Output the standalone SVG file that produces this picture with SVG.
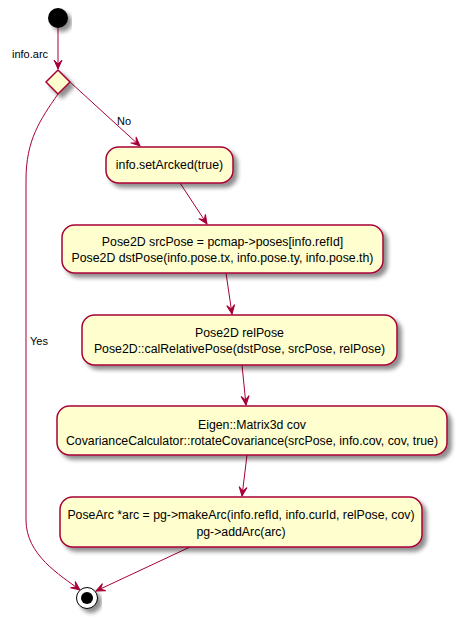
<svg xmlns="http://www.w3.org/2000/svg" width="456" height="618" viewBox="0 0 456 618">
<style>
.box{fill:#FEFECE;stroke:#A80036;stroke-width:1.5;filter:url(#sh)}
.t{font-family:"Liberation Sans",Arial,sans-serif;font-size:12.3px;fill:#000;text-anchor:middle}
.l{font-family:"Liberation Sans",Arial,sans-serif;font-size:11px;fill:#000}
.c{fill:none;stroke:#A80036;stroke-width:1}
</style>
<defs>
<filter id="sh" x="-10%" y="-20%" width="130%" height="160%">
<feGaussianBlur in="SourceAlpha" stdDeviation="2"/>
<feOffset dx="4" dy="4" result="b"/>
<feComponentTransfer><feFuncA type="linear" slope="0.45"/></feComponentTransfer>
<feMerge><feMergeNode/><feMergeNode in="SourceGraphic"/></feMerge>
</filter>
<marker id="ah" viewBox="-10 -5 11 10" refX="0" refY="0" markerUnits="userSpaceOnUse" markerWidth="11" markerHeight="10" orient="auto">
<path d="M0,0 L-9,-4 L-5,0 L-9,4 Z" fill="#A80036" stroke="#A80036" stroke-width="1"/>
</marker>
</defs>
<g id="connectors">
<line class="c" x1="58" y1="28" x2="58" y2="69" marker-end="url(#ah)"/>
<line class="c" x1="70" y1="82" x2="140" y2="146" marker-end="url(#ah)"/>
<text class="l" x="117" y="125">No</text>
<path class="c" d="M58,94 C40,120 26,140 26,180 L26,520 C26,555 60,575 80,590" marker-end="url(#ah)"/>
<text class="l" x="30" y="345">Yes</text>
<line class="c" x1="180" y1="183" x2="207" y2="224" marker-end="url(#ah)"/>
<line class="c" x1="226" y1="273" x2="232" y2="314" marker-end="url(#ah)"/>
<line class="c" x1="242" y1="365" x2="246" y2="405" marker-end="url(#ah)"/>
<line class="c" x1="247" y1="455" x2="242" y2="496" marker-end="url(#ah)"/>
<line class="c" x1="190" y1="547" x2="96" y2="591" marker-end="url(#ah)"/>
</g>
<g id="start"><circle cx="58" cy="18" r="10" fill="#000" filter="url(#sh)"/></g>
<g id="decision">
<polygon points="58,70 70,82 58,94 46,82" fill="#FEFECE" stroke="#A80036" stroke-width="1.5" filter="url(#sh)"/>
<text class="l" x="12" y="58">info.arc</text>
</g>
<g id="n1"><rect class="box" x="106" y="147" width="127" height="36" rx="12.5"/>
<text class="t" x="169.5" y="169">info.setArcked(true)</text></g>
<g id="n2"><rect class="box" x="62" y="225" width="321" height="48" rx="12.5"/>
<text class="t" x="222.5" y="246">Pose2D srcPose = pcmap-&gt;poses[info.refId]</text>
<text class="t" x="222.5" y="262">Pose2D dstPose(info.pose.tx, info.pose.ty, info.pose.th)</text></g>
<g id="n3"><rect class="box" x="82" y="315" width="315" height="50" rx="12.5"/>
<text class="t" x="239.5" y="337">Pose2D relPose</text>
<text class="t" x="239.5" y="353">Pose2D::calRelativePose(dstPose, srcPose, relPose)</text></g>
<g id="n4"><rect class="box" x="57" y="406" width="390" height="49" rx="12.5"/>
<text class="t" x="252" y="429">Eigen::Matrix3d cov</text>
<text class="t" x="252" y="445">CovarianceCalculator::rotateCovariance(srcPose, info.cov, cov, true)</text></g>
<g id="n5"><rect class="box" x="60" y="497" width="362" height="50" rx="12.5"/>
<text class="t" x="241" y="519">PoseArc *arc = pg-&gt;makeArc(info.refId, info.curId, relPose, cov)</text>
<text class="t" x="241" y="536">pg-&gt;addArc(arc)</text></g>
<g id="end">
<circle cx="87" cy="598" r="10.5" fill="#fff" stroke="#000" stroke-width="1" filter="url(#sh)"/>
<circle cx="87" cy="598" r="6" fill="#000"/>
</g>
</svg>
